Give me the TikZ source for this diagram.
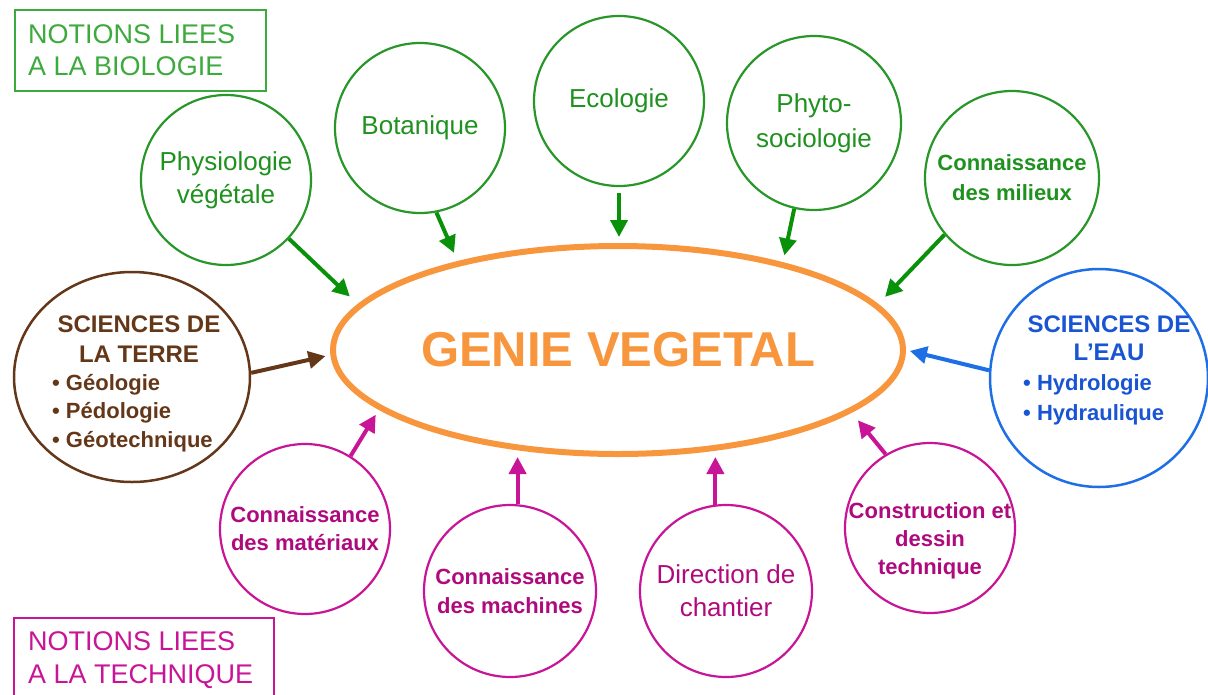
\documentclass[tikz,border=0pt]{standalone}
\usepackage{fontspec}
\setmainfont{Liberation Sans}
\usetikzlibrary{arrows.meta,shapes.geometric}
\definecolor{gline}{RGB}{40,150,40}
\definecolor{gtxt}{RGB}{30,145,30}
\definecolor{garr}{RGB}{10,145,10}
\definecolor{gbox}{RGB}{60,170,60}
\definecolor{brn}{RGB}{100,55,25}
\definecolor{blu}{RGB}{30,110,230}
\definecolor{blutxt}{RGB}{25,85,210}
\definecolor{mag}{RGB}{200,20,150}
\definecolor{magtxt}{RGB}{175,10,125}
\definecolor{org}{RGB}{247,150,60}
\newcommand\fntReg{\fontsize{26}{33}\selectfont}
\newcommand\fntPhy{\fontsize{26}{35}\selectfont}
\newcommand\fntBold{\bfseries\fontsize{22}{28}\selectfont}
\newcommand\fntBoldB{\bfseries\fontsize{22}{30}\selectfont}
\newcommand\fntHead{\bfseries\fontsize{24}{30}\selectfont}
\newcommand\fntBox{\fontsize{27}{32}\selectfont}
\begin{document}
\begin{tikzpicture}[x=1pt,y=-1pt,
  gcirc/.style={circle, draw=gline, line width=2.2pt, minimum size=#1, text=gtxt, align=center, inner sep=0pt},
  mcirc/.style={circle, draw=mag, line width=2.2pt, minimum size=#1, text=magtxt, align=center, inner sep=0pt},
  garrow/.style={draw=garr, line width=4pt, -{Triangle[length=17pt,width=17pt]}},
  marrow/.style={draw=mag, line width=4pt, -{Triangle[length=17pt,width=17pt]}},
  barrow/.style={draw=brn, line width=4pt, -{Triangle[length=17pt,width=17pt]}},
  uarrow/.style={draw=blu, line width=4pt, -{Triangle[length=17pt,width=17pt]}},
  txtline/.style={inner sep=0pt, anchor=base west},
  txtmid/.style={inner sep=0pt, anchor=base},
]
\useasboundingbox (0,0) rectangle (1208,694);

% boxes
\node[draw=gbox, line width=2pt, minimum width=251pt, minimum height=81pt, anchor=north west, inner sep=0pt] (biobox) at (14,9) {};
\node[txtline, text=gbox, font=\fntBox] (bio1) at (28,43) {NOTIONS LIEES};
\node[txtline, text=gbox, font=\fntBox] (bio2) at (28,75) {A LA BIOLOGIE};
\node[draw=mag, line width=2pt, minimum width=260pt, minimum height=90pt, anchor=north west, inner sep=0pt] (techbox) at (13,617) {};
\node[txtline, text=mag, font=\fntBox] (tech1) at (28,650) {NOTIONS LIEES};
\node[txtline, text=mag, font=\fntBox] (tech2) at (28,683) {A LA TECHNIQUE};

% central ellipse
\node[ellipse, draw=org, line width=6pt, minimum width=570pt, minimum height=208pt, inner sep=0pt,
      text=org, font=\bfseries\fontsize{49}{49}\selectfont] (gv) at (618,350) {GENIE VEGETAL};

% green circles
\node[gcirc=170pt, font=\fntReg] (phys) at (226,180) {Physiologie\\végétale};
\node[gcirc=170pt, font=\fntReg] (bot) at (420,128) {Botanique};
\node[gcirc=170pt, font=\fntReg] (eco) at (619,101) {Ecologie};
\node[gcirc=174pt, font=\fntPhy] (phyto) at (814,123) {Phyto-\\sociologie};
\node[gcirc=174pt, font=\fntBoldB] (mil) at (1012,178) {Connaissance\\des milieux};

% brown
\node[ellipse, draw=brn, line width=2.5pt, minimum width=236pt, minimum height=210pt, inner sep=0pt] (terre) at (132,377) {};
\node[txtmid, text=brn, font=\fntHead] (terre1) at (139,332) {SCIENCES DE};
\node[txtmid, text=brn, font=\fntHead] (terre2) at (139,362) {LA TERRE};
\node[txtline, text=brn, font=\fntBold] (terre3) at (52,390) {• Géologie};
\node[txtline, text=brn, font=\fntBold] (terre4) at (52,418) {• Pédologie};
\node[txtline, text=brn, font=\fntBold] (terre5) at (52,447) {• Géotechnique};

% blue
\node[circle, draw=blu, line width=2.5pt, minimum size=218pt, inner sep=0pt] (eau) at (1099,378) {};
\node[txtmid, text=blutxt, font=\fntHead] (eau1) at (1109,332) {SCIENCES DE};
\node[txtmid, text=blutxt, font=\fntHead] (eau2) at (1109,360) {L’EAU};
\node[txtline, text=blutxt, font=\fntBold] (eau3) at (1023,390) {• Hydrologie};
\node[txtline, text=blutxt, font=\fntBold] (eau4) at (1023,420) {• Hydraulique};

% magenta circles
\node[mcirc=170pt, font=\fntBold] (mat) at (305,529) {Connaissance\\des matériaux};
\node[mcirc=172pt, font=\bfseries\fontsize{22}{29}\selectfont] (mach) at (510,591) {Connaissance\\des machines};
\node[mcirc=172pt, font=\fntReg] (dir) at (726,591) {Direction de\\chantier};
\node[mcirc=170pt] (cons) at (930,528) {};
\node[inner sep=0pt, text=magtxt, align=center, font=\fntBold] (conslbl) at (930,541) {Construction et\\dessin\\technique};

% arrows
\draw[garrow, shorten >=11pt] (phys.-43) -- (gv.170);
\draw[garrow, shorten >=9pt] (bot.-79) -- (gv.151);
\draw[garrow, shorten <=6pt, shorten >=6pt] (eco.south) -- (eco.south |- gv.north);
\draw[garrow, shorten >=7pt] (phyto.-103) -- (gv.28);
\draw[garrow, shorten >=10pt] (mil.-140) -- (gv.10);
\draw[barrow, shorten >=5pt] (terre.2) -- (gv.181);
\draw[uarrow, shorten >=4pt] (eau.176) -- (gv.0);
\draw[marrow, shorten >=6pt] (mat.58) -- (gv.194);
\draw[marrow] (mach.85) -- (mach.85 |- gv.south);
\draw[marrow] (dir.97) -- (dir.97 |- gv.south);
\draw[marrow, shorten >=10pt] (cons.121) -- (gv.-15);
\end{tikzpicture}
\end{document}
